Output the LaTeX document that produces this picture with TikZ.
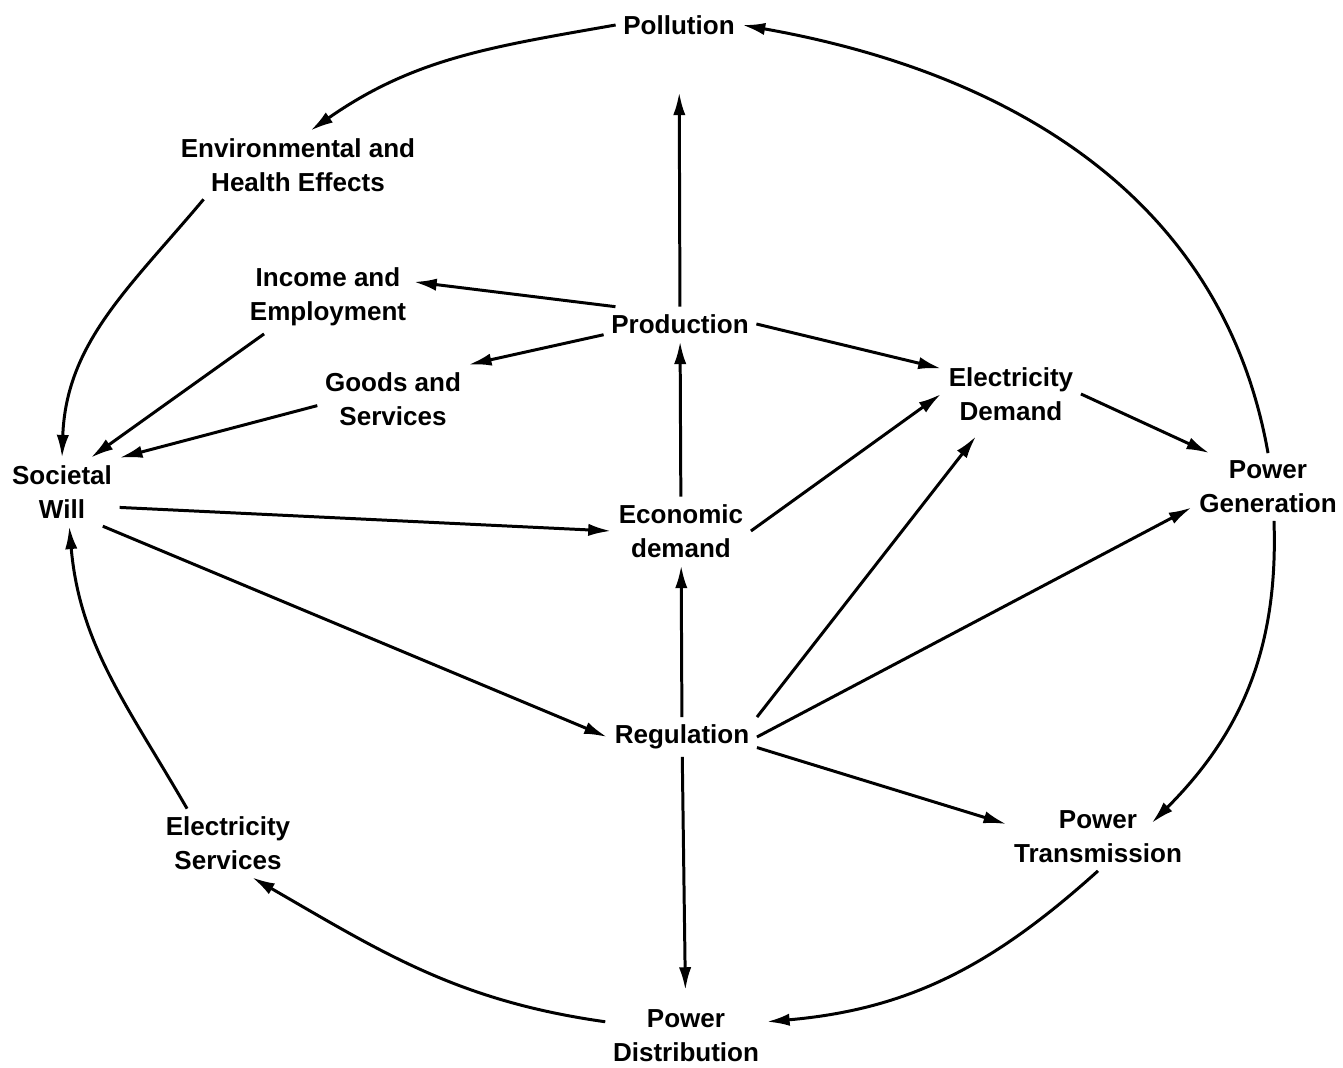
\documentclass[tikz,border=0pt]{standalone}
\usepackage{fontspec}
\setmainfont{Liberation Sans}
\usetikzlibrary{arrows.meta}
\begin{document}
\begin{tikzpicture}[x=0.01cm, y=0.01cm,
    lbl/.style={align=center, font=\fontsize{7.4}{9.7}\selectfont\bfseries, inner sep=2pt},
    arr/.style={-{Latex[length=6.5pt,width=3.5pt]}, line width=0.85pt}]
    \useasboundingbox (0,0) rectangle (1343,-1068);
    % Nodes
    \node (poll) [lbl] at (679,-25) {Pollution};
    \node (env) [lbl] at (298,-165) {Environmental and\\Health Effects};
    \node (inc) [lbl] at (328,-297) {Income and\\Employment};
    \node (prod) [lbl] at (680,-324) {Production};
    \node (goods) [lbl] at (393,-399) {Goods and\\Services};
    \node (edem) [lbl] at (1011,-394) {Electricity\\Demand};
    \node (soc) [lbl] at (62,-492) {Societal\\Will};
    \node (gen) [lbl] at (1268,-487) {Power\\Generation};
    \node (econ) [lbl] at (681,-531) {Economic\\demand};
    \node (reg) [lbl] at (682,-737) {Regulation};
    \node (es) [lbl] at (228,-843) {Electricity\\Services};
    \node (trans) [lbl] at (1098,-837) {Power\\Transmission};
    \node (dist) [lbl] at (686,-1036) {Power\\Distribution};

    % Straight links
    \draw[arr, shorten >=0.5cm] (prod) -- (poll);
    \draw[arr] (econ) -- (prod);
    \draw[arr] (reg) -- (econ);
    \draw[arr, shorten >=0.12cm] (reg) -- (dist);
    \draw[arr] (prod.165) -- (inc.10);
    \draw[arr] (prod.188) -- (goods.north east);
    \draw[arr] (prod.east) -- (edem.160);
    \draw[arr] (econ.east) -- (edem.west);
    \draw[arr] (inc.-150) -- (soc.50);
    \draw[arr] (goods.185) -- (soc.north east);
    \draw[arr] (soc.-15) -- (econ.west);
    \draw[arr] (soc.-40) -- (reg.west);
    \draw[arr, shorten >=0.1cm] (reg.north east) -- (edem.-130);
    \draw[arr] (reg.east) -- (gen.195);
    \draw[arr] (reg.-8) -- (trans.172);
    \draw[arr] (edem.east) -- (gen.150);

    % Outer loop
    \draw[arr] (gen.north) to[out=100, in=-10] (poll.east);
    \draw[arr] (poll.west) to[out=190, in=35] (env.70);
    \draw[arr] (env.-160) to[out=-130, in=88] (soc.north);
    \draw[arr] (gen.-80) to[out=-88, in=45] ([shift={(-38,-20)}]trans.north east);
    \draw[arr] (trans.south) to[out=-138, in=5] (dist.10);
    \draw[arr] (dist.170) to[out=172, in=-30] (es.-55);
    \draw[arr] (es.140) to[out=120, in=-85] (soc.-78);
\end{tikzpicture}
\end{document}
